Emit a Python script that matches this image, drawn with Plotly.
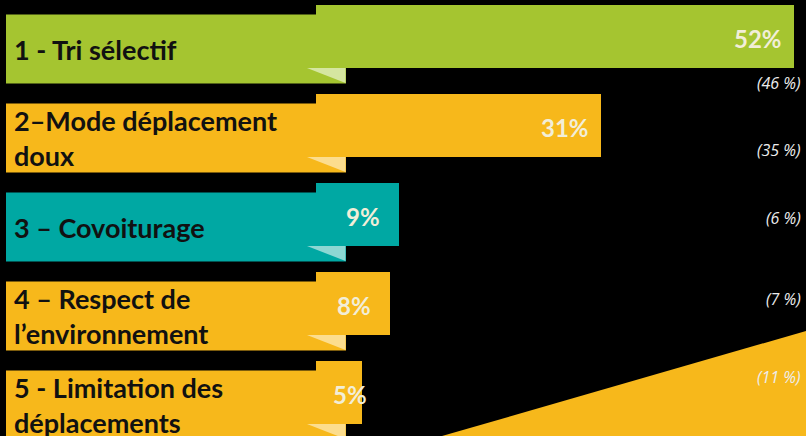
import plotly.graph_objects as go

# ---- data ----
labels = ["1 - Tri sélectif", "2–Mode déplacement<br>doux", "3 – Covoiturage",
          "4 – Respect de<br>l’environnement", "5 - Limitation des<br>déplacements"]
values = [52, 31, 9, 8, 5]
previous = [46, 35, 6, 7, 11]
value_text = ["52%", "31%", "9%", "8%", "5%"]
previous_text = ["(46 %)", "(35 %)", "(6 %)", "(7 %)", "(11 %)"]

# ---- style ----
W, H = 806, 436
K = 9.2            # px per percent
X0 = 316           # pixel where value bars start
PITCH = 89         # px between rows
C0 = 36.5          # pixel centre of first bar
colors = ["#A5C530", "#F7B81B", "#00A8A3", "#F7B81B", "#F7B81B"]
light = ["#D5E6A0", "#FCDD8E", "#8DD7D3", "#FCDD8E", "#FCDD8E"]
prev_y_px = [83, 150, 218, 299, 377]

def px2x(p):
    return (p - X0) / K

rows = list(range(len(values)))

fig = go.Figure()
fig.add_trace(go.Bar(
    x=values, y=rows, base=0, orientation="h",
    width=63 / PITCH, marker=dict(color=colors, line=dict(width=0)),
    hoverinfo="skip", showlegend=False,
))

shapes = []
# big decorative wedge at bottom right
shapes.append(dict(type="path", xref="paper", yref="paper", layer="below",
                   path=f"M {442/W},0 L 1,{1-331/H} L 1,0 Z",
                   fillcolor="#F7B81B", line=dict(width=0)))
annotations = []
for i in rows:
    # label box
    shapes.append(dict(type="rect", layer="below", xref="x", yref="y",
                       x0=px2x(6), x1=px2x(346),
                       y0=i - 22 / PITCH, y1=i + 47 / PITCH,
                       fillcolor=colors[i], line=dict(width=0)))
    # fold triangle
    yb = i + 31.5 / PITCH
    yb2 = i + 46.5 / PITCH
    shapes.append(dict(type="path", layer="above", xref="x", yref="y",
                       path=f"M {px2x(307)},{yb} L {px2x(345.5)},{yb} L {px2x(345.5)},{yb2} Z",
                       fillcolor=light[i], line=dict(width=0)))
    # label text
    annotations.append(dict(x=px2x(12), y=i + 12.5 / PITCH, xref="x", yref="y",
                            text=f"<b>{labels[i]}</b>", showarrow=False,
                            xanchor="left", yanchor="middle", align="left",
                            font=dict(family="Lato", size=27, color="#111111")))
    # value text
    vx = max(values[i] - 36 / K, px2x(350))
    annotations.append(dict(x=vx, y=i + 1.5 / PITCH, xref="x", yref="y",
                            text=f"<b>{value_text[i]}</b>", showarrow=False,
                            xanchor="center", yanchor="middle",
                            font=dict(family="Lato", size=24, color="#F2EED8")))
    # previous value
    annotations.append(dict(x=803 / W, y=1 - prev_y_px[i] / H, xref="paper", yref="paper",
                            text=f"<i>{previous_text[i]}</i>", showarrow=False,
                            xanchor="right", yanchor="middle",
                            font=dict(family="Open Sans", size=16, color="#EDEDED")))

fig.update_layout(
    width=W, height=H, margin=dict(l=0, r=0, t=0, b=0),
    paper_bgcolor="#000000", plot_bgcolor="#000000",
    xaxis=dict(range=[px2x(0), px2x(W)], visible=False, fixedrange=True),
    yaxis=dict(range=[(H - C0) / PITCH, -C0 / PITCH], visible=False, fixedrange=True),
    shapes=shapes, annotations=annotations, bargap=0,
)
fig.write_html("out.html", config={"displayModeBar": False},
               post_script="document.body.style.margin='0';document.body.style.background='#000';document.body.style.overflow='hidden';")
